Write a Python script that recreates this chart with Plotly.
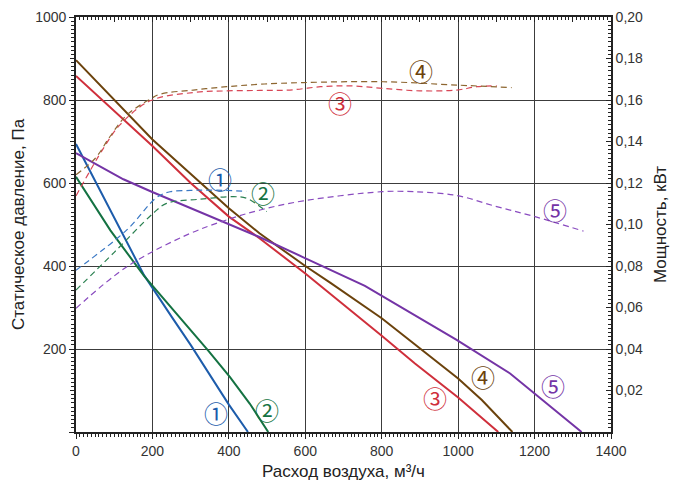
import plotly.graph_objects as go

# ---- pressure curves (Pa) vs airflow (m3/h) ----
flow_p1 = [0, 90, 178, 250, 300, 400, 450]
pres_1 = [694, 533, 378, 278, 210, 66, 0]

flow_p2 = [0, 90, 178, 260, 346, 403, 455, 503]
pres_2 = [615, 486, 376, 288, 196, 132, 68, 0]

flow_p3 = [0, 200, 300, 400, 480, 600, 800, 887, 1000, 1105]
pres_3 = [858, 689, 600, 519, 467, 382, 232, 165, 83, 0]

flow_p4 = [0, 200, 400, 480, 600, 665, 800, 900, 1000, 1062, 1142]
pres_4 = [896, 705, 539, 479, 400, 360, 274, 202, 129, 77, 0]

flow_p5 = [0, 124, 198, 394, 477, 595, 756, 996, 1136, 1323]
pres_5 = [672, 609, 579, 503, 471, 421, 352, 222, 141, 0]

# ---- power curves (kW) vs airflow (m3/h) ----
flow_w1 = [0, 133, 211, 246, 300, 350, 446]
powr_1 = [0.078, 0.0974, 0.113, 0.1158, 0.1164, 0.1166, 0.116]

flow_w2 = [0, 100, 202, 237, 325, 412, 447, 499]
powr_2 = [0.0684, 0.0866, 0.1054, 0.1102, 0.1122, 0.1134, 0.1126, 0.1062]

flow_w3 = [0, 72, 115, 194, 307, 394, 482, 560, 640, 720, 804, 900, 996, 1049, 1101]
powr_3 = [0.1138, 0.1368, 0.148, 0.1596, 0.1636, 0.1644, 0.1646, 0.1648, 0.1664, 0.1668,
          0.1656, 0.1644, 0.1648, 0.1664, 0.1668]

flow_w4 = [0, 50, 89, 133, 194, 220, 307, 394, 482, 595, 804, 996, 1140]
powr_4 = [0.124, 0.1318, 0.1424, 0.1528, 0.1604, 0.1628, 0.1648, 0.1664, 0.1676, 0.1684,
          0.1688, 0.1672, 0.166]

flow_w5 = [0, 133, 290, 394, 482, 595, 800, 883, 996, 1101, 1197, 1328]
powr_5 = [0.0596, 0.0796, 0.095, 0.1022, 0.107, 0.1114, 0.1158, 0.1158, 0.114, 0.1086,
          0.104, 0.0968]

x_ticks = [0, 200, 400, 600, 800, 1000, 1200, 1400]
y_ticks = [0, 200, 400, 600, 800, 1000]
y_ticklabels = ["", "200", "400", "600", "800", "1000"]
y2_ticks = [0.02, 0.04, 0.06, 0.08, 0.10, 0.12, 0.14, 0.16, 0.18, 0.20]
y2_ticklabels = ["0,02", "0,04", "0,06", "0,08", "0,10", "0,12", "0,14", "0,16", "0,18", "0,20"]

labels = ["①", "②", "③", "④", "⑤"]
colors_solid = ["#1d5cab", "#147242", "#cf2f3b", "#6b420c", "#7434a6"]
colors_dash = ["#3a78c4", "#2a8050", "#d84656", "#8d6630", "#8a4cc0"]

fig = go.Figure()

solid = [(flow_p1, pres_1), (flow_p2, pres_2), (flow_p3, pres_3), (flow_p4, pres_4), (flow_p5, pres_5)]
dashed = [(flow_w1, powr_1), (flow_w2, powr_2), (flow_w3, powr_3), (flow_w4, powr_4), (flow_w5, powr_5)]

for i, (fx, fy) in enumerate(dashed):
    fig.add_trace(go.Scatter(x=fx, y=fy, mode="lines", yaxis="y2", line_shape="spline",
                             line=dict(color=colors_dash[i], width=1.2, dash="6px,4px"),
                             showlegend=False, hoverinfo="skip"))
for i, (fx, fy) in enumerate(solid):
    fig.add_trace(go.Scatter(x=fx, y=fy, mode="lines",
                             line=dict(color=colors_solid[i], width=2),
                             showlegend=False, hoverinfo="skip"))

# dummy traces to activate the auxiliary tick axes
fig.add_trace(go.Scatter(x=[None], y=[None], xaxis="x2", yaxis="y", showlegend=False, hoverinfo="skip"))
fig.add_trace(go.Scatter(x=[None], y=[None], xaxis="x", yaxis="y3", showlegend=False, hoverinfo="skip"))

# circled labels
lab_top = [(377, 612), (489, 576), (691, 795), (903, 870), (1254, 537)]
lab_bot = [(366, 48), (500, 55), (940, 84), (1065, 133), (1248, 111)]
for i in range(5):
    for (lx, ly) in (lab_top[i], lab_bot[i]):
        fig.add_annotation(x=lx, y=ly, xref="x", yref="y", text=labels[i], showarrow=False,
                           font=dict(family="Noto Sans CJK JP", size=24, color=colors_solid[i]))

axcol = "#222222"
gridcol = "#3c3c3c"
tickfont = dict(family="Liberation Sans, Arial", size=14, color="#333333")
titlefont = dict(family="Liberation Sans, Arial", size=17, color="#222222")

fig.update_layout(
    width=673, height=485,
    margin=dict(l=76, r=62, t=17, b=53, autoexpand=False),
    paper_bgcolor="white", plot_bgcolor="white",
    xaxis=dict(range=[0, 1400], tickvals=x_ticks, ticks="outside", ticklen=5, tickwidth=1.3,
               tickcolor=axcol, showline=True, linecolor=axcol, linewidth=1.6,
               showgrid=True, gridcolor=gridcol, gridwidth=1.2, zeroline=False, automargin=False,
               minor=dict(dtick=10, tick0=0, ticks="outside", ticklen=3, tickcolor=axcol, tickwidth=1,
                          showgrid=False),
               tickfont=tickfont,
               title=dict(text="Расход воздуха, м³/ч", font=titlefont, standoff=8)),
    xaxis2=dict(range=[0, 1400], overlaying="x", side="top", anchor="y", automargin=False,
                tickvals=list(range(100, 1400, 100)), ticks="inside", ticklen=5, tickcolor=axcol,
                tickwidth=1.2, showticklabels=False, showgrid=False, zeroline=False,
                showline=True, linecolor=axcol, linewidth=1.6,
                minor=dict(dtick=10, tick0=0, ticks="inside", ticklen=3, tickcolor=axcol, tickwidth=1)),
    yaxis=dict(range=[0, 1000], tickvals=y_ticks, ticktext=y_ticklabels, ticks="outside",
               ticklen=5, tickwidth=1.3, tickcolor=axcol, showline=True, linecolor=axcol,
               linewidth=1.6, showgrid=True, gridcolor=gridcol, gridwidth=1.2, zeroline=False,
               automargin=False,
               minor=dict(dtick=10, tick0=0, ticks="outside", ticklen=3, tickcolor=axcol, tickwidth=1,
                          showgrid=False),
               tickfont=tickfont,
               title=dict(text="Статическое давление, Па", font=titlefont, standoff=6)),
    yaxis3=dict(range=[0, 1000], overlaying="y", side="left", anchor="x", automargin=False,
                tickvals=[100, 300, 500, 700, 900], ticks="outside", ticklen=5, tickwidth=1.2,
                tickcolor=axcol, showticklabels=False, showgrid=False, zeroline=False, showline=False),
    yaxis2=dict(range=[0, 0.2], overlaying="y", side="right", anchor="x", automargin=False,
                tickvals=y2_ticks, ticktext=y2_ticklabels, ticks="inside", ticklen=5,
                tickwidth=1.3, tickcolor=axcol, showline=True, linecolor=axcol, linewidth=1.6,
                showgrid=False, zeroline=False,
                minor=dict(dtick=0.002, tick0=0, ticks="inside", ticklen=3, tickcolor=axcol, tickwidth=1),
                tickfont=tickfont,
                title=dict(text="Мощность, кВт", font=titlefont, standoff=12)),
)

fig.write_html("out.html", config={"displayModeBar": False},
               post_script="document.body.style.margin='0px';")
